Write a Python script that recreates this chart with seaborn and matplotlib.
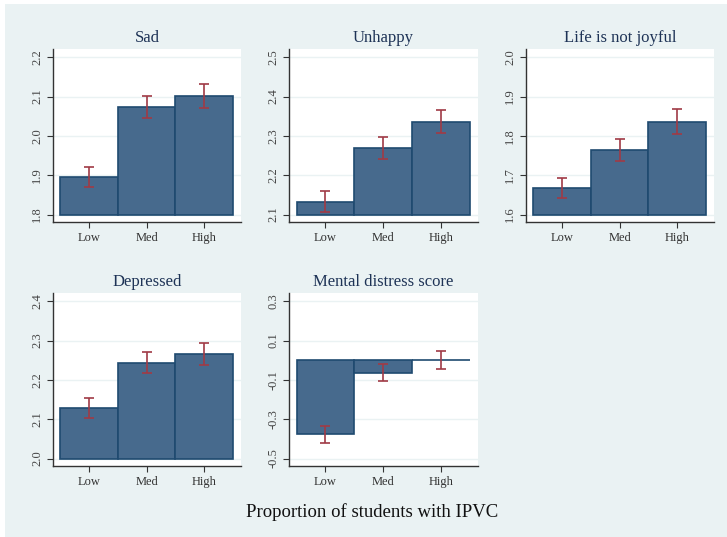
import numpy as np
import pandas as pd
import matplotlib
matplotlib.use("Agg")
import matplotlib.pyplot as plt
import seaborn as sns
from matplotlib.patches import Rectangle

# group labels on the x axis
groups = ["Low", "Med", "High"]

titles = ["Sad", "Unhappy", "Life is not joyful", "Depressed", "Mental distress score"]

# means
means_sad = [1.895, 2.074, 2.101]
means_unhappy = [2.133, 2.269, 2.336]
means_joyful = [1.668, 1.764, 1.836]
means_depressed = [2.129, 2.244, 2.265]
means_distress = [-0.373, -0.063, 0.001]

# confidence interval bounds
lo_sad = [1.870, 2.046, 2.071]
hi_sad = [1.921, 2.101, 2.131]
lo_unhappy = [2.107, 2.242, 2.307]
hi_unhappy = [2.159, 2.297, 2.367]
lo_joyful = [1.642, 1.736, 1.805]
hi_joyful = [1.694, 1.792, 1.868]
lo_depressed = [2.104, 2.217, 2.237]
hi_depressed = [2.155, 2.271, 2.293]
lo_distress = [-0.419, -0.107, -0.046]
hi_distress = [-0.332, -0.020, 0.048]

# bar base and y ticks per panel
bases = [1.8, 2.1, 1.6, 2.0, 0.0]
yticks = [
    [1.8, 1.9, 2.0, 2.1, 2.2],
    [2.1, 2.2, 2.3, 2.4, 2.5],
    [1.6, 1.7, 1.8, 1.9, 2.0],
    [2.0, 2.1, 2.2, 2.3, 2.4],
    [-0.5, -0.3, -0.1, 0.1, 0.3],
]

means = [means_sad, means_unhappy, means_joyful, means_depressed, means_distress]
los = [lo_sad, lo_unhappy, lo_joyful, lo_depressed, lo_distress]
his = [hi_sad, hi_unhappy, hi_joyful, hi_depressed, hi_distress]

sns.set_theme(style="white")
plt.rcParams["font.family"] = ["Liberation Serif", "DejaVu Serif"]

BG = "#EAF2F3"
BAR = "#476A8D"
EDGE = "#1F4A70"
ERR = "#A03A45"
TITLE = "#1E3356"

fig = plt.figure(figsize=(7.27, 5.37), dpi=100, facecolor="white")
W, H = 727, 537
fig.patches.append(Rectangle((5 / W, 0), 1, 1 - 4 / H, transform=fig.transFigure,
                             facecolor=BG, edgecolor="none", zorder=-10))

# panel boxes in pixel coords: left, right, top, bottom
boxes = [
    (53, 241, 49, 222),
    (289, 478, 49, 222),
    (526, 714, 49, 222),
    (53, 241, 293, 466),
    (289, 478, 293, 466),
]

for i in range(5):
    l, r, t, b = boxes[i]
    ax = fig.add_axes([l / W, 1 - b / H, (r - l) / W, (b - t) / H])
    ax.set_facecolor("white")
    df = pd.DataFrame({"group": groups, "mean": means[i], "lo": los[i], "hi": his[i]})
    x = np.arange(len(groups))
    ax.bar(x, df["mean"] - bases[i], bottom=bases[i], width=1.0,
           color=BAR, edgecolor=EDGE, linewidth=1.2, zorder=2)
    ax.errorbar(x, df["mean"], yerr=[df["mean"] - df["lo"], df["hi"] - df["mean"]],
                fmt="none", ecolor=ERR, elinewidth=1.2, capsize=3.5, capthick=1.2, zorder=3)
    tk = yticks[i]
    step = tk[1] - tk[0]
    ax.set_ylim(tk[0] - step * 0.19, tk[-1] + step * 0.21)
    ax.set_xlim(-0.63, 2.64)
    ax.set_yticks(tk)
    ax.set_yticklabels([f"{v:.1f}" for v in tk], rotation=90, va="center", fontsize=9, color="#444444")
    ax.set_xticks(x)
    ax.set_xticklabels(groups, fontsize=9, color="#333333")
    for v in tk:
        ax.axhline(v, color=BG, linewidth=1.0, zorder=1)
    for s in ["top", "right"]:
        ax.spines[s].set_visible(False)
    for s in ["left", "bottom"]:
        ax.spines[s].set_color("#333333")
        ax.spines[s].set_linewidth(1.0)
    ax.tick_params(axis="both", length=4, width=0.8, color="#333333", pad=3, bottom=True, left=True)
    ax.set_title(titles[i], fontsize=12, color=TITLE, pad=5)

fig.text(372 / W, 1 - 512 / H, "Proportion of students with IPVC", ha="center", va="center",
         fontsize=13.5, color="#111111")

fig.savefig("out.png", dpi=100, facecolor=fig.get_facecolor())
